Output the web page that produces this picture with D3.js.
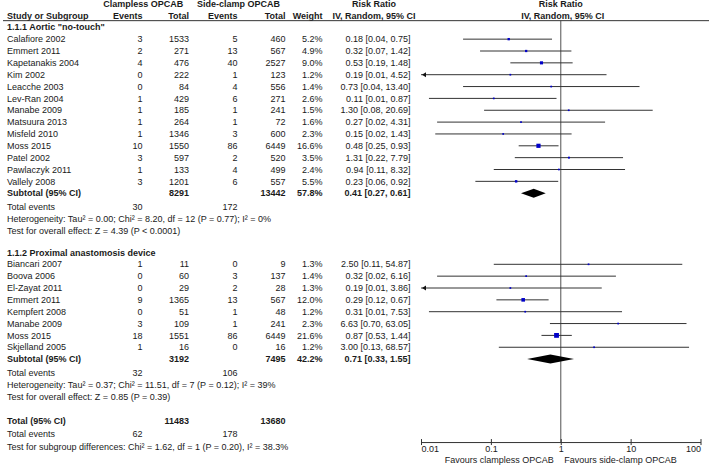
<!DOCTYPE html>
<html><head><meta charset="utf-8">
<script src="https://cdn.jsdelivr.net/npm/d3@7"></script>
<style>
body{margin:0;background:#fff}
svg{display:block}
text{font-family:'Liberation Sans',Arial,Helvetica,sans-serif;font-size:9px;fill:#1a1a1a}
</style>
</head><body>
<svg id="c" width="709" height="466"></svg>
<script>
// ---------- DATA ----------
const g1Heading = '1.1.1 Aortic "no-touch"';
const g1Study   = ["Calafiore 2002","Emmert 2011","Kapetanakis 2004","Kim 2002","Leacche 2003","Lev-Ran 2004","Manabe 2009","Matsuura 2013","Misfeld 2010","Moss 2015","Patel 2002","Pawlaczyk 2011","Vallely 2008"];
const g1EventsA = [3,2,4,0,0,1,1,1,1,10,3,1,3];
const g1TotalA  = [1533,271,476,222,84,429,185,264,1346,1550,597,133,1201];
const g1EventsB = [5,13,40,1,4,6,1,1,3,86,2,4,6];
const g1TotalB  = [460,567,2527,123,556,271,241,72,600,6449,520,499,557];
const g1Weight  = [5.2,4.9,9.0,1.2,1.4,2.6,1.5,1.6,2.3,16.6,3.5,2.4,5.5];
const g1RR      = [0.18,0.32,0.53,0.19,0.73,0.11,1.30,0.27,0.15,0.48,1.31,0.94,0.23];
const g1Lo      = [0.04,0.07,0.19,0.0076,0.04,0.013,0.08,0.017,0.016,0.25,0.22,0.11,0.06];
const g1Hi      = [0.75,1.42,1.48,4.52,13.40,0.87,20.69,4.31,1.43,0.93,7.79,8.32,0.92];
const g1Sub     = {totA:8291, totB:13442, weight:57.8, rr:0.41, lo:0.27, hi:0.61, evA:30, evB:172};
const g1Het     = "Heterogeneity: Tau\u00B2 = 0.00; Chi\u00B2 = 8.20, df = 12 (P = 0.77); I\u00B2 = 0%";
const g1Test    = "Test for overall effect: Z = 4.39 (P < 0.0001)";

const g2Heading = "1.1.2 Proximal anastomosis device";
const g2Study   = ["Biancari 2007","Boova 2006","El-Zayat 2011","Emmert 2011","Kempfert 2008","Manabe 2009","Moss 2015","Skjelland 2005"];
const g2EventsA = [1,0,0,9,0,3,18,1];
const g2TotalA  = [11,60,29,1365,51,109,1551,16];
const g2EventsB = [0,3,2,13,1,1,86,0];
const g2TotalB  = [9,137,28,567,48,241,6449,16];
const g2Weight  = [1.3,1.4,1.3,12.0,1.2,2.3,21.6,1.2];
const g2RR      = [2.50,0.32,0.19,0.29,0.31,6.63,0.87,3.00];
const g2Lo      = [0.11,0.017,0.0097,0.12,0.013,0.70,0.53,0.13];
const g2Hi      = [54.87,6.16,3.86,0.67,7.53,63.05,1.44,68.57];
const g2Sub     = {totA:3192, totB:7495, weight:42.2, rr:0.71, lo:0.33, hi:1.55, evA:32, evB:106};
const g2Het     = "Heterogeneity: Tau\u00B2 = 0.37; Chi\u00B2 = 11.51, df = 7 (P = 0.12); I\u00B2 = 39%";
const g2Test    = "Test for overall effect: Z = 0.85 (P = 0.39)";

const totalRow  = {totA:11483, totB:13680, evA:62, evB:178};
const subgroupTest = "Test for subgroup differences: Chi\u00B2 = 1.62, df = 1 (P = 0.20), I\u00B2 = 38.3%";

const tickValues = [0.01,0.1,1,10,100];
const tickLabels = ["0.01","0.1","1","10","100"];
const favoursLeft = "Favours clampless OPCAB";
const favoursRight = "Favours side-clamp OPCAB";
const expLabel = "Clampless OPCAB", ctlLabel = "Side-clamp OPCAB";

// ---------- LAYOUT ----------
const svg = d3.select("#c");
const unit = 11.85, yTop = 27.3;
const y = d3.scaleLinear().domain([0,1]).range([yTop, yTop+unit]);
const x = d3.scaleLog().domain([0.01,100]).range([421,700.5]);
const sq = d3.scaleSqrt().domain([0,21.6]).range([0,4.8]);
const col = {study:7, evA:142.5, totA:189, evB:237.5, totB:285.5, wt:322.5, rr:410.5, rrHead:374};
const f2 = d3.format(".2f");
const rrLabel = (r,l,h)=>`${f2(r)} [${f2(l)}, ${f2(h)}]`;
const ink = "#1a1a1a";

const gText = svg.append("g");
const gPlot = svg.append("g");

function txt(xx, yy, s, anchor, bold){
  return gText.append("text").attr("x",xx).attr("y",yy).attr("dy","0.35em")
    .attr("text-anchor",anchor||"start").attr("font-weight",bold?"bold":null).text(s);
}

// headers
txt((104+182.7)/2, y(-2), expLabel, "middle", true);
txt((197.7+279.3)/2, y(-2), ctlLabel, "middle", true);
txt(col.rrHead, y(-2), "Risk Ratio", "middle", true);
txt(x(1), y(-2), "Risk Ratio", "middle", true);
txt(col.study, y(-1), "Study or Subgroup", "start", true);
txt(col.evA, y(-1), "Events", "end", true);
txt(col.totA, y(-1), "Total", "end", true);
txt(col.evB, y(-1), "Events", "end", true);
txt(col.totB, y(-1), "Total", "end", true);
txt(col.wt, y(-1), "Weight", "end", true);
txt(col.rrHead, y(-1), "IV, Random, 95% CI", "middle", true);
txt(x(1)+2, y(-1), "IV, Random, 95% CI", "middle", true);

svg.append("line").attr("x1",3).attr("x2",709).attr("y1",y(-0.56)).attr("y2",y(-0.56))
  .attr("stroke","#333").attr("stroke-width",1);

// axis position
const axisY = y(35.0);

// null line
gPlot.append("line").attr("x1",x(1)).attr("x2",x(1)).attr("y1",y(-0.56)).attr("y2",axisY)
  .attr("stroke","#6e6e6e").attr("stroke-width",1.2);

const groups = [
  {slot:0, heading:g1Heading, study:g1Study, evA:g1EventsA, totA:g1TotalA, evB:g1EventsB, totB:g1TotalB, wt:g1Weight, rr:g1RR, lo:g1Lo, hi:g1Hi, sub:g1Sub, het:g1Het, test:g1Test},
  {slot:19, heading:g2Heading, study:g2Study, evA:g2EventsA, totA:g2TotalA, evB:g2EventsB, totB:g2TotalB, wt:g2Weight, rr:g2RR, lo:g2Lo, hi:g2Hi, sub:g2Sub, het:g2Het, test:g2Test}
];

const [xmin,xmax] = x.domain();
groups.forEach(g=>{
  txt(col.study, y(g.slot), g.heading, "start", true);
  g.study.forEach((s,i)=>{
    const yy = y(g.slot+1+i);
    txt(col.study, yy, s);
    txt(col.evA, yy, g.evA[i], "end");
    txt(col.totA, yy, g.totA[i], "end");
    txt(col.evB, yy, g.evB[i], "end");
    txt(col.totB, yy, g.totB[i], "end");
    txt(col.wt, yy, d3.format(".1f")(g.wt[i])+"%", "end");
    txt(col.rr, yy, rrLabel(g.rr[i],g.lo[i],g.hi[i]), "end");
    const lo = Math.max(g.lo[i], xmin), hi = Math.min(g.hi[i], xmax);
    gPlot.append("line").attr("x1",x(lo)).attr("x2",x(hi)).attr("y1",yy).attr("y2",yy)
      .attr("stroke","#333").attr("stroke-width",1);
    if (g.lo[i] < xmin){
      const ax = x(xmin)+1;
      gPlot.append("path").attr("d",`M${ax},${yy}L${ax+4},${yy-2.5}L${ax+4},${yy+2.5}Z`).attr("fill","#111");
    }
    const s2 = Math.max(1.7, sq(g.wt[i]));
    gPlot.append("rect").attr("x",x(g.rr[i])-s2/2).attr("y",yy-s2/2).attr("width",s2).attr("height",s2)
      .attr("fill","#0000c8");
  });
  const n = g.study.length;
  const ys = y(g.slot+n+1);
  txt(col.study, ys, "Subtotal (95% CI)", "start", true);
  txt(col.totA, ys, g.sub.totA, "end", true);
  txt(col.totB, ys, g.sub.totB, "end", true);
  txt(col.wt, ys, d3.format(".1f")(g.sub.weight)+"%", "end", true);
  txt(col.rr, ys, rrLabel(g.sub.rr,g.sub.lo,g.sub.hi), "end", true);
  const dh = 4.5;
  gPlot.append("path").attr("d",
    `M${x(g.sub.lo)},${ys}L${x(g.sub.rr)},${ys-dh}L${x(g.sub.hi)},${ys}L${x(g.sub.rr)},${ys+dh}Z`)
    .attr("fill","#000");
  const yt = y(g.slot+n+2.15);
  txt(col.study, yt, "Total events");
  txt(col.evA, yt, g.sub.evA, "end");
  txt(col.evB, yt, g.sub.evB, "end");
  txt(col.study, y(g.slot+n+3.2), g.het);
  txt(col.study, y(g.slot+n+4.2), g.test);
});

// overall
txt(col.study, y(33.2), "Total (95% CI)", "start", true);
txt(col.totA, y(33.2), totalRow.totA, "end", true);
txt(col.totB, y(33.2), totalRow.totB, "end", true);
txt(col.study, y(34.3), "Total events");
txt(col.evA, y(34.3), totalRow.evA, "end");
txt(col.evB, y(34.3), totalRow.evB, "end");
txt(col.study, y(35.4), subgroupTest);

// axis
const axis = d3.axisBottom(x).tickValues(tickValues).tickSizeInner(3).tickSizeOuter(0)
  .tickFormat((d,i)=>tickLabels[i]);
const ga = svg.append("g").attr("transform",`translate(0,${axisY})`).call(axis);
ga.select(".domain").attr("stroke","#333");
ga.selectAll(".tick line").attr("y1",-3).attr("y2",3).attr("stroke","#333");
ga.selectAll(".tick text").attr("y",3.5).attr("font-size",null).attr("font-family",null).attr("fill",ink)
  .attr("text-anchor",(d,i,n)=> i===0?"start":(i===n.length-1?"end":"middle"));
ga.attr("font-size",null).attr("font-family",null);

txt(x(1)-7, axisY+18, favoursLeft, "end");
txt(x(1)+3.5, axisY+18, favoursRight, "start");
</script>
</body></html>
